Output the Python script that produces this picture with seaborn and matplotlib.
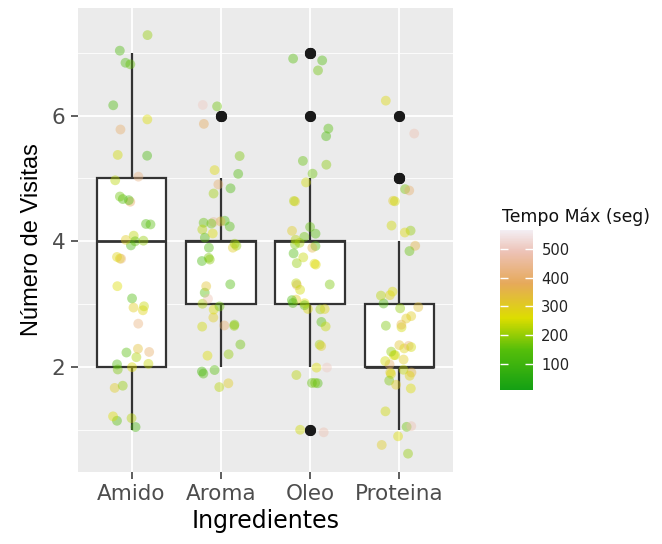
import numpy as np
import pandas as pd
import matplotlib
matplotlib.use("Agg")
import matplotlib.pyplot as plt
import seaborn as sns
from matplotlib.colors import LinearSegmentedColormap, Normalize
from matplotlib.cm import ScalarMappable
from matplotlib.ticker import MultipleLocator

categories = ["Amido", "Aroma", "Oleo", "Proteina"]

# visits (integer counts) and max time (s) per observation
amido_visitas = [1]*4 + [2]*10 + [3]*6 + [4]*10 + [5]*8 + [6]*3 + [7]*4
amido_tempo = [150, 230, 120, 260,
               180, 240, 300, 130, 400, 220, 150, 260, 330, 200,
               260, 280, 420, 130, 240, 300,
               150, 260, 230, 120, 300, 160, 420, 200, 140, 280,
               380, 150, 230, 120, 140, 250, 430, 170,
               260, 400, 130,
               130, 140, 160, 200]

aroma_visitas = [2]*8 + [3]*12 + [4]*16 + [5]*6 + [6]*3
aroma_tempo = [200, 150, 120, 260, 170, 230, 300, 140,
               220, 180, 400, 300, 260, 150, 480, 250, 200, 170, 320, 130,
               130, 160, 140, 200, 230, 300, 180, 150, 120, 260, 140, 350, 210, 190, 450, 170,
               180, 140, 270, 400, 210, 130,
               500, 380, 170]

oleo_visitas = [1]*2 + [2]*8 + [3]*14 + [4]*14 + [5]*6 + [6]*2 + [7]*3
oleo_tempo = [250, 480,
              210, 160, 260, 140, 300, 500, 230, 180,
              300, 270, 150, 240, 210, 130, 260, 400, 180, 230, 250, 160, 140, 280,
              140, 200, 160, 130, 260, 220, 300, 180, 350, 150, 240, 270, 170, 230,
              160, 250, 190, 300, 230, 170,
              150, 130,
              170, 150, 140]

proteina_visitas = [1]*6 + [2]*18 + [3]*11 + [4]*5 + [5]*4 + [6]*2
proteina_tempo = [170, 250, 260, 300, 480, 200,
                  350, 280, 300, 260, 400, 250, 230, 320, 270, 300, 240, 180, 280, 260, 420, 200, 250, 300,
                  250, 300, 200, 280, 330, 130, 260, 350, 230, 180, 300,
                  200, 270, 350, 160, 250,
                  180, 300, 400, 250,
                  270, 480]

visitas = [amido_visitas, aroma_visitas, oleo_visitas, proteina_visitas]
tempos = [amido_tempo, aroma_tempo, oleo_tempo, proteina_tempo]

rows = []
for cat, v, t in zip(categories, visitas, tempos):
    for vi, ti in zip(v, t):
        rows.append((cat, vi, ti))
df = pd.DataFrame(rows, columns=["Ingredientes", "Visitas", "Tempo"])

# jitter like geom_jitter
rng = np.random.default_rng(11)
df["xj"] = df["Ingredientes"].map({c: i for i, c in enumerate(categories)}) + rng.uniform(-0.22, 0.22, len(df))
df["yj"] = df["Visitas"] + rng.uniform(-0.38, 0.38, len(df))

cmap = LinearSegmentedColormap.from_list("tempo", [
    (0.0, "#14A014"), (0.25, "#55BE0A"), (0.45, "#DDDD00"),
    (0.666, "#E6A95A"), (0.865, "#EDC2B6"), (1.0, "#F3EEF3")])
norm = Normalize(vmin=10, vmax=565)

W, H = 662, 544
fig = plt.figure(figsize=(W/100, H/100), dpi=100)
ax = fig.add_axes([78/W, (H-472)/H, (453-78)/W, (472-8)/H])
ax.set_facecolor("#EBEBEB")

sns.boxplot(data=df, x="Ingredientes", y="Visitas", order=categories, ax=ax,
            width=0.78, color="white", linecolor="#333333", linewidth=1.6,
            showcaps=False, whis=1.5,
            medianprops={"linewidth": 2.0, "color": "#333333"},
            flierprops={"marker": "o", "markerfacecolor": "#1a1a1a",
                        "markeredgecolor": "#1a1a1a", "markersize": 7})

sns.scatterplot(data=df, x="xj", y="yj", hue="Tempo", palette=cmap, hue_norm=norm,
                s=50, alpha=0.42, linewidth=0, legend=False, ax=ax, zorder=3)

ax.set_xlim(-0.6, 3.6)
ax.set_ylim(0.33, 7.71)
ax.set_xticks(range(len(categories)))
ax.set_xticklabels(categories)
ax.yaxis.set_major_locator(MultipleLocator(2))
ax.yaxis.set_minor_locator(MultipleLocator(1))
ax.grid(which="major", color="white", linewidth=1.3)
ax.grid(which="minor", axis="y", color="white", linewidth=0.6)
ax.set_axisbelow(True)
for s in ax.spines.values():
    s.set_visible(False)
ax.tick_params(axis="both", which="major", length=5, width=1.1, color="#333333",
               labelsize=15.5, labelcolor="#4D4D4D", pad=4)
ax.tick_params(axis="y", which="minor", length=0)
ax.set_xlabel("Ingredientes", fontsize=17, color="black", labelpad=3)
ax.set_ylabel("Número de Visitas", fontsize=17, family="Liberation Sans",
              color="black", labelpad=6)

cax = fig.add_axes([500/W, (H-390)/H, 33/W, 160/H])
cb = fig.colorbar(ScalarMappable(norm=norm, cmap=cmap), cax=cax)
cb.outline.set_visible(False)
cb.set_ticks([100, 200, 300, 400, 500])
cax.yaxis.set_ticks_position("both")
cax.tick_params(direction="in", length=6, width=1, color="white",
                labelsize=10.6, labelcolor="#222222", pad=6, left=True, right=True,
                labelleft=False, labelright=True)
fig.text(502/W, 1-217/H, "Tempo Máx (seg)", fontsize=12.4, color="#111111",
         ha="left", va="center")

fig.savefig("out.png", dpi=100)
